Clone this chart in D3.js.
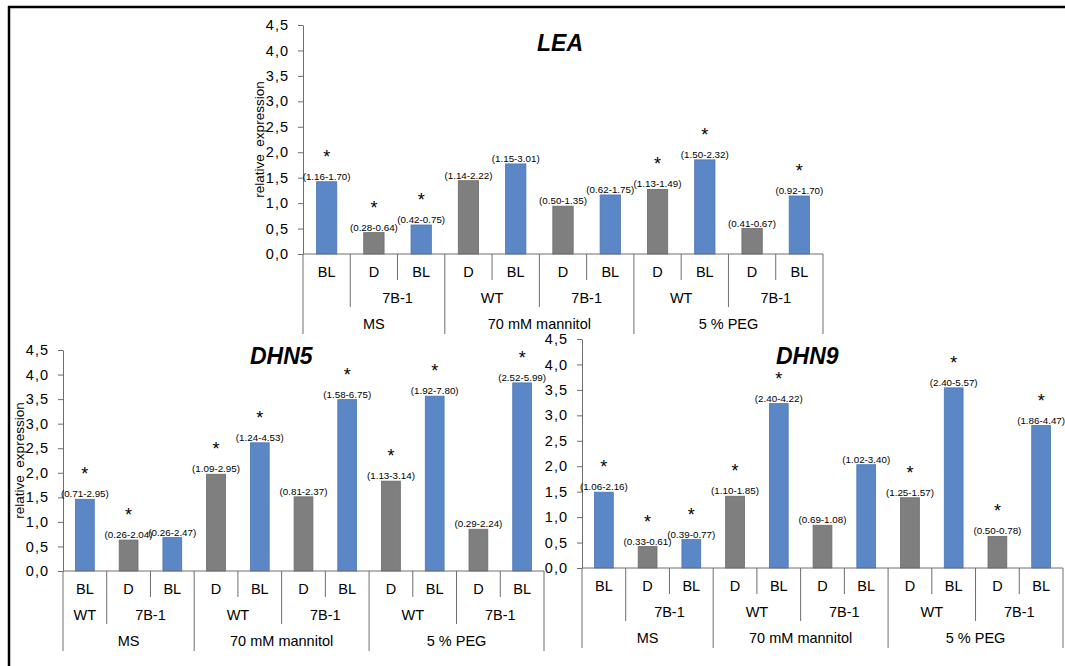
<!DOCTYPE html>
<html>
<head>
<meta charset="utf-8">
<script src="https://cdn.jsdelivr.net/npm/d3@7"></script>
<style>
  body { margin: 0; background: #fff; }
  svg text { font-family: "Liberation Sans", Arial, sans-serif; fill: #000; }
</style>
</head>
<body>
<svg id="chart" width="1065" height="666"></svg>
<script>
// category rows, one entry per bar
const treatment = ["BL", "D", "BL", "D", "BL", "D", "BL", "D", "BL", "D", "BL"];
const genotypeLEA = ["", "7B-1", "7B-1", "WT", "WT", "7B-1", "7B-1", "WT", "WT", "7B-1", "7B-1"];
const genotypeDHN5 = ["WT", "7B-1", "7B-1", "WT", "WT", "7B-1", "7B-1", "WT", "WT", "7B-1", "7B-1"];
const medium = ["MS", "MS", "MS", "70 mM mannitol", "70 mM mannitol", "70 mM mannitol", "70 mM mannitol",
                "5 % PEG", "5 % PEG", "5 % PEG", "5 % PEG"];
const yTicks = [0, 0.5, 1, 1.5, 2, 2.5, 3, 3.5, 4, 4.5];

// LEA
const leaValues = [1.42, 0.42, 0.57, 1.44, 1.77, 0.94, 1.16, 1.27, 1.85, 0.50, 1.14];
const leaRanges = ["(1.16-1.70)", "(0.28-0.64)", "(0.42-0.75)", "(1.14-2.22)", "(1.15-3.01)", "(0.50-1.35)",
                   "(0.62-1.75)", "(1.13-1.49)", "(1.50-2.32)", "(0.41-0.67)", "(0.92-1.70)"];
const leaStars = [1, 1, 1, 0, 0, 0, 0, 1, 1, 0, 1];

// DHN5
const dhn5Values = [1.46, 0.63, 0.68, 1.97, 2.61, 1.51, 3.49, 1.83, 3.56, 0.85, 3.83];
const dhn5Ranges = ["(0.71-2.95)", "(0.26-2.04)", "(0.26-2.47)", "(1.09-2.95)", "(1.24-4.53)", "(0.81-2.37)",
                    "(1.58-6.75)", "(1.13-3.14)", "(1.92-7.80)", "(0.29-2.24)", "(2.52-5.99)"];
const dhn5Stars = [1, 1, 0, 1, 1, 0, 1, 1, 1, 0, 1];

// DHN9
const dhn9Values = [1.49, 0.42, 0.56, 1.41, 3.23, 0.84, 2.03, 1.38, 3.54, 0.62, 2.80];
const dhn9Ranges = ["(1.06-2.16)", "(0.33-0.61)", "(0.39-0.77)", "(1.10-1.85)", "(2.40-4.22)", "(0.69-1.08)",
                    "(1.02-3.40)", "(1.25-1.57)", "(2.40-5.57)", "(0.50-0.78)", "(1.86-4.47)"];
const dhn9Stars = [1, 1, 1, 1, 1, 0, 0, 1, 1, 1, 1];

const colors = { BL: "#5b87c6", D: "#7f7f7f" };
const strokes = { BL: "#4b76b3", D: "#6a6a6a" };
const axisColor = "#6e6e6e";

const svg = d3.select("#chart");
svg.append("rect").attr("width", 1065).attr("height", 666).attr("fill", "#fff");

function drawPanel(cfg) {
    const n = cfg.values.length;
    const x = d3.scaleBand()
        .domain(d3.range(n))
        .range([cfg.left, cfg.right])
        .paddingInner(0.57)
        .paddingOuter(0.285);
    const y = d3.scaleLinear().domain([0, 4.5]).range([cfg.bottom, cfg.top]);
    const step = (cfg.right - cfg.left) / n;
    const g = svg.append("g");

    // y axis
    const yAxis = d3.axisLeft(y)
        .tickValues(yTicks)
        .tickFormat(d => d3.format(".1f")(d).replace(".", ","))
        .tickSize(5)
        .tickSizeOuter(0)
        .tickPadding(9);
    const ya = g.append("g").attr("transform", `translate(${cfg.left},0)`).call(yAxis);
    ya.selectAll("path, line").attr("stroke", axisColor);
    ya.selectAll("text").attr("font-size", 14.5).attr("font-family", "Liberation Sans, Arial, sans-serif")
        .attr("letter-spacing", 1).attr("fill", "#000");

    // bars
    g.selectAll("rect.bar")
        .data(cfg.values)
        .join("rect")
        .attr("class", "bar")
        .attr("x", (d, i) => x(i))
        .attr("width", x.bandwidth())
        .attr("y", d => y(d))
        .attr("height", d => y(0) - y(d))
        .attr("fill", (d, i) => colors[treatment[i]])
        .attr("stroke", (d, i) => strokes[treatment[i]])
        .attr("stroke-width", 0.8);

    // data labels
    g.selectAll("text.rng")
        .data(cfg.values)
        .join("text")
        .attr("class", "rng")
        .attr("x", (d, i) => x(i) + x.bandwidth() / 2)
        .attr("y", d => y(d) - 2)
        .attr("text-anchor", "middle")
        .attr("font-size", 9.8)
        .text((d, i) => cfg.ranges[i]);

    // significance stars
    g.selectAll("text.star")
        .data(cfg.values.map((v, i) => ({ v, i })).filter(d => cfg.stars[d.i]))
        .join("text")
        .attr("class", "star")
        .attr("x", d => x(d.i) + x.bandwidth() / 2)
        .attr("y", d => y(d.v) - 19)
        .attr("text-anchor", "middle")
        .attr("font-size", 18)
        .attr("fill", "#3a3a3a")
        .text("*");

    // category axis line
    g.append("line")
        .attr("x1", cfg.left).attr("x2", cfg.right)
        .attr("y1", y(0)).attr("y2", y(0))
        .attr("stroke", axisColor);

    const rowH = [26, 53, 80];
    const rowText = [23, 49, 75];
    // separators between categories
    for (let i = 0; i <= n; i++) {
        let depth;
        if (i === 0 || i === n || medium[i] !== medium[i - 1]) depth = 2;
        else if (cfg.genotype[i] !== cfg.genotype[i - 1]) depth = 1;
        else depth = 0;
        const xp = cfg.left + i * step;
        g.append("line")
            .attr("x1", xp).attr("x2", xp)
            .attr("y1", y(0)).attr("y2", y(0) + rowH[depth])
            .attr("stroke", axisColor);
    }

    // group labels for each row
    function groups(keyFn, labelFn) {
        const out = [];
        for (let i = 0; i < n; i++) {
            const k = keyFn(i);
            if (out.length && out[out.length - 1].key === k) out[out.length - 1].end = i;
            else out.push({ key: k, label: labelFn(i), start: i, end: i });
        }
        return out;
    }
    const rows = [
        groups(i => i, i => treatment[i]),
        groups(i => medium[i] + "|" + cfg.genotype[i], i => cfg.genotype[i]),
        groups(i => medium[i], i => medium[i])
    ];
    rows.forEach((row, r) => {
        g.selectAll(null)
            .data(row)
            .join("text")
            .attr("x", d => cfg.left + (d.start + d.end + 1) / 2 * step)
            .attr("y", y(0) + rowText[r])
            .attr("text-anchor", "middle")
            .attr("font-size", 14.5)
            .text(d => d.label);
    });

    // axis title
    if (cfg.yLabel) {
        g.append("text")
            .attr("transform", `translate(${cfg.left - 39},${(y(0) + y(4.5)) / 2}) rotate(-90)`)
            .attr("text-anchor", "middle")
            .attr("font-size", 13.5)
            .text("relative\u00a0 expression");
    }

    // gene name
    g.append("text")
        .attr("x", cfg.titleX)
        .attr("y", cfg.titleY)
        .attr("font-size", 23)
        .attr("font-weight", "bold")
        .attr("font-style", "italic")
        .text(cfg.title);
}

drawPanel({ title: "LEA", titleX: 537, titleY: 51, left: 303, right: 823, top: 25, bottom: 254,
            values: leaValues, ranges: leaRanges, stars: leaStars, genotype: genotypeLEA, yLabel: true });
drawPanel({ title: "DHN5", titleX: 250, titleY: 364, left: 63, right: 544, top: 350, bottom: 571,
            values: dhn5Values, ranges: dhn5Ranges, stars: dhn5Stars, genotype: genotypeDHN5, yLabel: true });
drawPanel({ title: "DHN9", titleX: 776, titleY: 364, left: 582, right: 1063, top: 339, bottom: 568,
            values: dhn9Values, ranges: dhn9Ranges, stars: dhn9Stars, genotype: genotypeLEA, yLabel: false });

// outer frame (top and left edges only)
svg.append("line").attr("x1", 8).attr("x2", 1065).attr("y1", 7).attr("y2", 7)
    .attr("stroke", "#000").attr("stroke-width", 2.5);
svg.append("line").attr("x1", 9).attr("x2", 9).attr("y1", 6).attr("y2", 666)
    .attr("stroke", "#000").attr("stroke-width", 2.5);
</script>
</body>
</html>
